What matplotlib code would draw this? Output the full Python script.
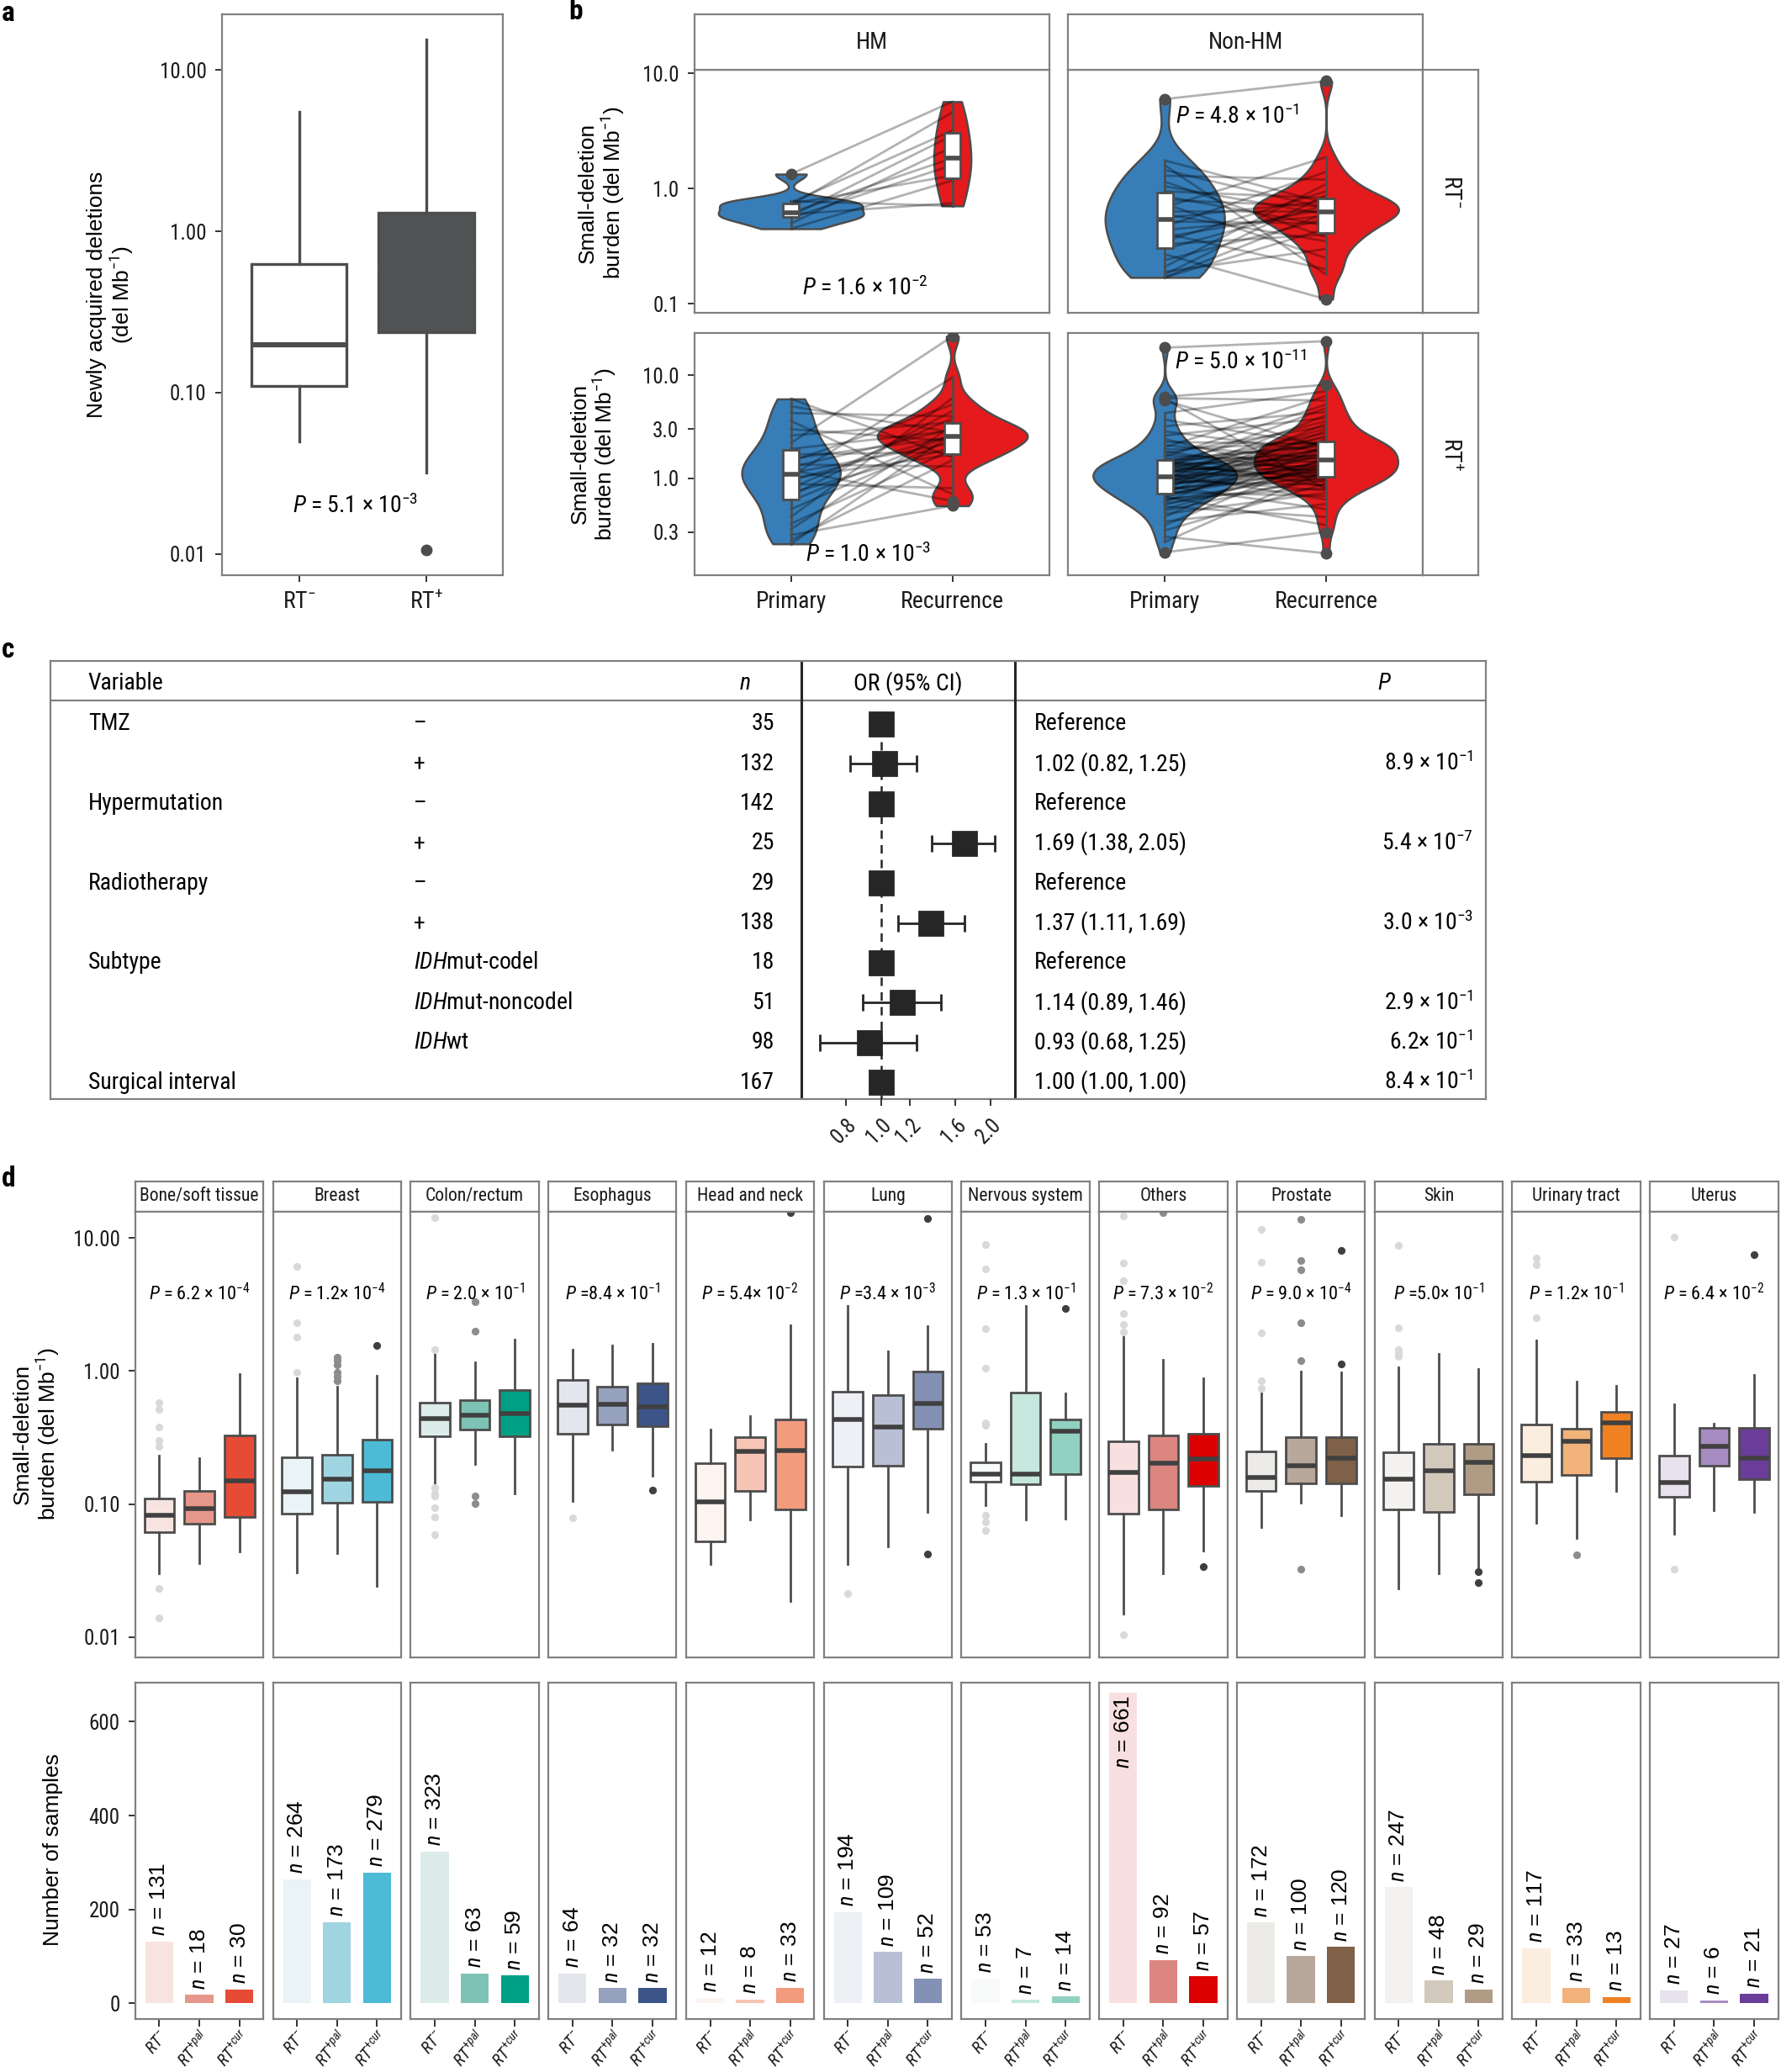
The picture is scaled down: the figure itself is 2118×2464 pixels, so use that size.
import numpy as np
import matplotlib
matplotlib.use('Agg')
import matplotlib.pyplot as plt
from matplotlib import cbook, font_manager as fm
from matplotlib.ticker import NullLocator

names = {f.name for f in fm.fontManager.ttflist}
_cands = ['Liberation Sans Narrow', 'Arial Narrow', 'Roboto Condensed', 'Archivo Narrow',
          'PT Sans Narrow', 'Barlow Semi Condensed', 'Asap Condensed']
NARROW = next((c for c in _cands if c in names), 'Liberation Sans')
REG = 'Liberation Sans'
plt.rcParams['font.family'] = [NARROW, 'DejaVu Sans']
plt.rcParams['mathtext.fontset'] = 'custom'
plt.rcParams['mathtext.rm'] = NARROW
plt.rcParams['mathtext.it'] = NARROW + ':italic'
plt.rcParams['mathtext.bf'] = NARROW + ':bold'
plt.rcParams['mathtext.sf'] = NARROW

# ======================= DATA =======================
# ---- panel a ----
a_groups = ['RT$^{-}$', 'RT$^{+}$']
a_q1 = [0.110, 0.236]
a_med = [0.198, 0.58]
a_q3 = [0.624, 1.31]
a_lo = [0.0497, 0.0319]
a_hi = [5.48, 15.4]
a_out = [[], [0.0105]]
a_p = r'$\mathit{P}$ = 5.1 × 10$^{-3}$'

# ---- panel b (paired primary / recurrence burdens) ----
b_cols = ['HM', 'Non-HM']
b_rows = ['RT$^{-}$', 'RT$^{+}$']
b_xlabels = ['Primary', 'Recurrence']
hm_neg_pri = [1.34, 0.78, 0.76, 0.74, 0.72, 0.62, 0.60, 0.58, 0.56, 0.50, 0.45]
hm_neg_rec = [5.7, 0.71, 3.2, 1.3, 4.6, 1.84, 0.75, 2.9, 1.6, 2.3, 1.18]
nhm_neg_pri = [0.17, 0.17, 0.18, 0.19, 0.21, 0.24, 0.27, 0.30, 0.33, 0.35,
               0.38, 0.41, 0.44, 0.47, 0.52, 0.56, 0.60, 0.64, 0.69, 0.74,
               0.80, 0.86, 0.95, 1.05, 1.15, 1.30, 1.45, 1.60, 1.76, 6.0]
nhm_neg_rec = [0.62, 0.45, 0.88, 0.30, 1.10, 0.55, 0.11, 0.72, 0.40, 0.95,
               0.66, 0.20, 0.58, 1.40, 0.50, 0.78, 0.35, 0.64, 1.88, 0.25,
               0.70, 0.48, 0.83, 0.60, 0.38, 1.20, 0.68, 0.18, 0.75, 8.6]
hm_pos_pri = [0.23, 0.25, 0.28, 0.32, 0.36, 0.42, 0.50, 0.60, 0.67, 0.72,
              0.80, 0.88, 0.95, 1.00, 1.05, 1.12, 1.20, 1.28, 1.36, 1.45,
              1.55, 1.70, 1.93, 2.20, 2.60, 3.00, 3.60, 4.30, 5.00, 5.90]
hm_pos_rec = [2.7, 1.5, 0.54, 3.2, 1.9, 6.0, 2.4, 2.65, 4.5, 2.0,
              3.8, 0.8, 2.6, 1.7, 9.5, 2.2, 0.6, 3.0, 1.3, 5.2,
              2.5, 1.8, 2.9, 24.0, 3.5, 2.3, 0.7, 4.0, 2.8, 1.6]
nhm_pos_pri = [0.19, 0.24, 0.27, 0.31, 0.35, 0.38, 0.42, 0.45, 0.48, 0.50,
               0.53, 0.55, 0.57, 0.59, 0.61, 0.63, 0.65, 0.66, 0.68, 0.70,
               0.71, 0.73, 0.75, 0.77, 0.79, 0.80, 0.82, 0.84, 0.86, 0.88,
               0.90, 0.91, 0.93, 0.95, 0.96, 0.98, 0.99, 1.00, 1.02, 1.03,
               1.05, 1.08, 1.10, 1.12, 1.14, 1.17, 1.19, 1.21, 1.24, 1.26,
               1.28, 1.30, 1.33, 1.35, 1.38, 1.40, 1.43, 1.45, 1.48, 1.50,
               1.55, 1.62, 1.68, 1.75, 1.82, 1.90, 2.00, 2.10, 2.25, 2.40,
               2.60, 2.85, 3.20, 3.70, 4.30, 5.70, 5.90, 6.00, 6.20, 18.6]
nhm_pos_rec = [0.30, 1.20, 0.186, 0.89, 1.60, 0.56, 2.10, 0.72, 1.05, 1.40,
               0.42, 1.30, 0.95, 2.40, 1.10, 0.80, 1.76, 0.35, 1.50, 1.23,
               2.90, 0.67, 1.45, 1.16, 3.40, 0.99, 1.84, 0.50, 1.33, 2.00,
               1.07, 2.60, 0.86, 1.64, 1.26, 4.10, 0.76, 1.92, 1.38, 2.20,
               1.14, 3.05, 0.62, 1.72, 2.29, 1.48, 0.92, 2.50, 1.21, 4.80,
               1.88, 1.03, 2.75, 1.57, 0.97, 3.60, 1.28, 2.12, 0.83, 1.68,
               2.04, 5.20, 1.43, 3.20, 1.12, 2.25, 6.30, 1.53, 2.16, 1.01,
               3.85, 1.80, 4.40, 2.08, 7.00, 1.96, 0.78, 5.70, 8.10, 21.5]
b_p = [[r'$\mathit{P}$ = 1.6 × 10$^{-2}$', r'$\mathit{P}$ = 4.8 × 10$^{-1}$'],
       [r'$\mathit{P}$ = 1.0 × 10$^{-3}$', r'$\mathit{P}$ = 5.0 × 10$^{-11}$']]

# ---- panel c (forest table) ----
c_variables = ['TMZ', '', 'Hypermutation', '', 'Radiotherapy', '', 'Subtype', '', '', 'Surgical interval']
c_levels = ['–', '+', '–', '+', '–', '+', r'$\mathit{IDH}$mut-codel', r'$\mathit{IDH}$mut-noncodel',
            r'$\mathit{IDH}$wt', '']
c_n = [35, 132, 142, 25, 29, 138, 18, 51, 98, 167]
c_or = [1.00, 1.02, 1.00, 1.69, 1.00, 1.37, 1.00, 1.14, 0.93, 1.00]
c_lo = [np.nan, 0.82, np.nan, 1.38, np.nan, 1.11, np.nan, 0.89, 0.68, 1.00]
c_hi = [np.nan, 1.25, np.nan, 2.05, np.nan, 1.69, np.nan, 1.46, 1.25, 1.00]
c_ortext = ['Reference', '1.02 (0.82, 1.25)', 'Reference', '1.69 (1.38, 2.05)', 'Reference',
            '1.37 (1.11, 1.69)', 'Reference', '1.14 (0.89, 1.46)', '0.93 (0.68, 1.25)', '1.00 (1.00, 1.00)']
c_p = ['', r'8.9 × 10$^{-1}$', '', r'5.4 × 10$^{-7}$', '', r'3.0 × 10$^{-3}$', '',
       r'2.9 × 10$^{-1}$', r'6.2× 10$^{-1}$', r'8.4 × 10$^{-1}$']
c_ticks = [0.8, 1.0, 1.2, 1.6, 2.0]

# ---- panel d ----
d_cancers = ['Bone/soft tissue', 'Breast', 'Colon/rectum', 'Esophagus', 'Head and neck', 'Lung',
             'Nervous system', 'Others', 'Prostate', 'Skin', 'Urinary tract', 'Uterus']
d_groups = [r'$\mathit{RT}^{-}$', r'$\mathit{RT}^{+pal}$', r'$\mathit{RT}^{+cur}$']
d_q1 = [[0.062, 0.0714, 0.080], [0.0843, 0.1025, 0.1035], [0.324, 0.365, 0.324], [0.339, 0.394, 0.385],
        [0.0526, 0.126, 0.0906], [0.191, 0.195, 0.369], [0.147, 0.141, 0.167], [0.0843, 0.0906, 0.137],
        [0.126, 0.143, 0.143], [0.0916, 0.0877, 0.119], [0.147, 0.166, 0.223], [0.113, 0.195, 0.153]]
d_med = [[0.082, 0.0927, 0.149], [0.124, 0.155, 0.177], [0.44, 0.466, 0.479], [0.556, 0.56, 0.536],
         [0.104, 0.247, 0.254], [0.435, 0.377, 0.567], [0.169, 0.167, 0.352], [0.174, 0.202, 0.217],
         [0.158, 0.195, 0.223], [0.153, 0.177, 0.206], [0.232, 0.295, 0.408], [0.145, 0.273, 0.223]]
d_q3 = [[0.110, 0.126, 0.33], [0.226, 0.236, 0.303], [0.582, 0.60, 0.72], [0.859, 0.76, 0.813],
        [0.202, 0.317, 0.43], [0.70, 0.66, 0.987], [0.206, 0.69, 0.435], [0.295, 0.33, 0.339],
        [0.249, 0.317, 0.317], [0.245, 0.284, 0.284], [0.394, 0.369, 0.496], [0.233, 0.372, 0.372]]
d_lo = [[0.030, 0.036, 0.044], [0.0305, 0.0426, 0.0244], [0.143, 0.20, 0.120], [0.105, 0.256, 0.164],
        [0.0352, 0.0767, 0.0188], [0.0356, 0.0483, 0.0867], [0.098, 0.0767, 0.0776], [0.015, 0.030, 0.045],
        [0.0675, 0.1025, 0.082], [0.0234, 0.030, 0.0333], [0.072, 0.0556, 0.126], [0.060, 0.090, 0.0877]]
d_hi = [[0.23, 0.223, 0.95], [0.888, 0.76, 0.92], [1.36, 1.17, 1.73], [1.44, 1.55, 1.60],
        [0.365, 0.46, 2.19], [3.09, 1.40, 2.16], [0.284, 3.06, 0.68], [1.85, 1.22, 0.888],
        [0.68, 0.99, 0.97], [1.07, 1.34, 1.03], [1.70, 0.826, 0.77], [0.56, 0.40, 0.94]]
d_out = [[[0.575, 0.515, 0.38, 0.30, 0.27, 0.0234, 0.014], [], []],
         [[6.1, 2.31, 1.79, 0.977], [1.27, 1.19, 1.11, 0.98, 0.91, 0.85], [1.55]],
         [[14.1, 1.44, 0.134, 0.121, 0.115, 0.094, 0.080, 0.059], [3.32, 1.98, 0.115, 0.101], []],
         [[0.0785], [], [0.128]],
         [[], [], [15.5]],
         [[0.0213], [], [14.0, 0.042]],
         [[8.9, 5.86, 2.09, 1.05, 0.41, 0.39, 0.082, 0.073, 0.063], [], [2.94]],
         [[14.5, 6.5, 4.77, 2.7, 2.25, 1.96, 0.0105], [15.5], [0.034]],
         [[11.6, 6.6, 1.94, 0.85, 0.74], [13.7, 6.73, 5.79, 2.31, 1.19, 0.0327], [8.1, 1.135]],
         [[8.8, 2.1, 1.44, 1.36, 1.29], [], [0.031, 0.0258]],
         [[7.04, 6.3, 2.52], [0.0416], []],
         [[10.1, 0.0327], [], [7.48]]]
d_p = [r'$\mathit{P}$ = 6.2 × 10$^{-4}$', r'$\mathit{P}$ = 1.2× 10$^{-4}$', r'$\mathit{P}$ = 2.0 × 10$^{-1}$',
       r'$\mathit{P}$ =8.4 × 10$^{-1}$', r'$\mathit{P}$ = 5.4× 10$^{-2}$', r'$\mathit{P}$ =3.4 × 10$^{-3}$',
       r'$\mathit{P}$ = 1.3 × 10$^{-1}$', r'$\mathit{P}$ = 7.3 × 10$^{-2}$', r'$\mathit{P}$ = 9.0 × 10$^{-4}$',
       r'$\mathit{P}$ =5.0× 10$^{-1}$', r'$\mathit{P}$ = 1.2× 10$^{-1}$', r'$\mathit{P}$ = 6.4 × 10$^{-2}$']
d_n = [[131, 18, 30], [264, 173, 279], [323, 63, 59], [64, 32, 32], [12, 8, 33], [194, 109, 52],
       [53, 7, 14], [661, 92, 57], [172, 100, 120], [247, 48, 29], [117, 33, 13], [27, 6, 21]]
d_colors = [['#f7e4e1', '#e6968a', '#e64b35'], ['#eaf4f6', '#a1d4e1', '#4dbbd5'],
            ['#ddecea', '#7dc2b5', '#00a087'], ['#e3e6ec', '#95a1bd', '#3c5488'],
            ['#fdf3f0', '#f6c5b5', '#f39b7f'], ['#eff0f5', '#b8c0d5', '#8491b4'],
            ['#f8fbfa', '#c5e7de', '#91d1c2'], ['#f8e0e0', '#dc8680', '#dc0000'],
            ['#ecebe8', '#b8a79b', '#7e6148'], ['#f3f2ef', '#d3c8bc', '#b09c85'],
            ['#fbeedf', '#f2b27a', '#f08123'], ['#e8e1ee', '#a68cc1', '#6a3d9a']]

# ======================= STYLE HELPERS =======================
GRAY = '#808080'
LINE_C = '#4d4d4d'
TICK_C = '#333333'
OUT_C = ['#d9d9d9', '#8c8c8c', '#3f3f3f']
BLUE, RED = '#377eb8', '#e41a1c'

fig = plt.figure(figsize=(2118 / 200, 2464 / 200), dpi=200)
W, H = 1349.0, 1568.0


def rect(x0, y0, x1, y1):
    return [x0 / W, 1 - y1 / H, (x1 - x0) / W, (y1 - y0) / H]


def style(ax, ls=8.5):
    for s in ax.spines.values():
        s.set_color(GRAY)
        s.set_linewidth(0.8)
    ax.tick_params(colors=TICK_C, labelcolor='#1a1a1a', length=3, width=0.7, labelsize=ls)
    ax.yaxis.set_minor_locator(NullLocator())
    ax.xaxis.set_minor_locator(NullLocator())


def strip(r, text, rot=0, fs=9):
    s = fig.add_axes(rect(*r))
    s.set_xticks([])
    s.set_yticks([])
    for sp in s.spines.values():
        sp.set_color(GRAY)
        sp.set_linewidth(0.8)
    s.text(0.5, 0.5, text, ha='center', va='center', rotation=rot, fontsize=fs,
           transform=s.transAxes, color='#1a1a1a')
    return s


def nrd0_kde(X, coords):
    X = np.asarray(X, float)
    n = len(X)
    sd = np.std(X, ddof=1)
    q75, q25 = np.percentile(X, [75, 25])
    h = 0.9 * min(sd, (q75 - q25) / 1.34) * n ** -0.2
    z = (np.asarray(coords)[:, None] - X[None, :]) / h
    return np.exp(-0.5 * z * z).sum(1) / (n * h * np.sqrt(2 * np.pi))


def log_violin(ax, vals, pos, width, color):
    vs = cbook.violin_stats([np.log10(vals)], nrd0_kde, points=300)
    for s in vs:
        for k in ['coords', 'mean', 'median', 'min', 'max']:
            s[k] = 10 ** np.asarray(s[k])
    parts = ax.violin(vs, positions=[pos], widths=width, showmeans=False,
                      showextrema=False, showmedians=False)
    for b in parts['bodies']:
        b.set_facecolor(color)
        b.set_edgecolor(LINE_C)
        b.set_alpha(1)
        b.set_linewidth(0.9)
        b.set_zorder(1)


def log_boxstats(vals):
    st = cbook.boxplot_stats(np.log10(vals), whis=1.5)[0]
    out = {k: 10 ** st[k] for k in ['med', 'q1', 'q3', 'whislo', 'whishi']}
    out['fliers'] = 10 ** np.asarray(st['fliers'])
    return out


# ======================= PANEL A =======================
axa = fig.add_axes(rect(168, 11.1, 380.6, 435.4))
style(axa, 9)
axa.set_yscale('log')
a_fill = ['white', '#505354']
a_medc = [LINE_C, '#505354']
for g in range(2):
    st = dict(q1=a_q1[g], med=a_med[g], q3=a_q3[g], whislo=a_lo[g], whishi=a_hi[g], fliers=a_out[g])
    axa.bxp([st], positions=[g + 1], widths=0.75, patch_artist=True, showcaps=False, manage_ticks=False,
            boxprops=dict(facecolor=a_fill[g], edgecolor=LINE_C, linewidth=1.2),
            medianprops=dict(color=a_medc[g], linewidth=2.2),
            whiskerprops=dict(color=LINE_C, linewidth=1.2),
            flierprops=dict(marker='o', markerfacecolor=LINE_C, markeredgecolor=LINE_C, markersize=4))
axa.set_xlim(0.394, 2.597)
axa.set_ylim(10 ** -2.134, 10 ** 1.344)
axa.set_yticks([0.01, 0.1, 1, 10])
axa.set_yticklabels(['0.01', '0.10', '1.00', '10.00'])
axa.yaxis.set_minor_locator(NullLocator())
axa.set_xticks([1, 2])
axa.set_xticklabels(a_groups, fontsize=10)
axa.text(1.44, 0.0198, a_p, ha='center', va='center', fontsize=10)
fig.text(84 / W, 1 - 223 / H, 'Newly acquired deletions\n(del Mb$^{-1}$)', rotation=90,
         ha='center', va='center', fontsize=9.5, family=REG, linespacing=1.05)

# ======================= PANEL B =======================
b_data = {(0, 0): (hm_neg_pri, hm_neg_rec), (0, 1): (nhm_neg_pri, nhm_neg_rec),
          (1, 0): (hm_pos_pri, hm_pos_rec), (1, 1): (nhm_pos_pri, nhm_pos_rec)}
b_vw = {(0, 0): (0.9, 0.23), (0, 1): (0.74, 0.9), (1, 0): (0.61, 0.93), (1, 1): (0.89, 0.89)}
b_ptxt_pos = {(0, 0): (1.46, 0.138), (0, 1): (1.45, 4.25), (1, 0): (1.48, 0.179), (1, 1): (1.47, 13.5)}
xr = {0: (525.8, 794.7), 1: (809, 1077.7)}
yr = {0: (53.1, 237), 1: (251.7, 435.4)}
ylims = {0: (10 ** -1.080, 10 ** 1.029), 1: (10 ** -0.945, 10 ** 1.416)}
yticks = {0: ([0.1, 1.0, 10.0], ['0.1', '1.0', '10.0']),
          1: ([0.3, 1.0, 3.0, 10.0], ['0.3', '1.0', '3.0', '10.0'])}
for r in range(2):
    for c in range(2):
        ax = fig.add_axes(rect(xr[c][0], yr[r][0], xr[c][1], yr[r][1]))
        style(ax, 9)
        ax.set_yscale('log')
        pri, rec = b_data[(r, c)]
        wp, wr = b_vw[(r, c)]
        log_violin(ax, pri, 1, wp, BLUE)
        log_violin(ax, rec, 2, wr, RED)
        for p, q in zip(pri, rec):
            ax.plot([1, 2], [p, q], color='black', alpha=0.3, lw=1.0, zorder=2)
        for pos, vals in [(1, pri), (2, rec)]:
            ax.bxp([log_boxstats(vals)], positions=[pos], widths=0.1, patch_artist=True, showcaps=False,
                   manage_ticks=False, zorder=3,
                   boxprops=dict(facecolor='white', edgecolor=LINE_C, linewidth=1.0),
                   medianprops=dict(color=LINE_C, linewidth=2.0),
                   whiskerprops=dict(color=LINE_C, linewidth=1.0),
                   flierprops=dict(marker='o', markerfacecolor=LINE_C, markeredgecolor=LINE_C,
                                   markersize=4))
        ax.set_xlim(0.4, 2.6)
        ax.set_ylim(*ylims[r])
        ax.set_yticks(yticks[r][0])
        ax.yaxis.set_minor_locator(NullLocator())
        if c == 0:
            ax.set_yticklabels(yticks[r][1])
        else:
            ax.set_yticklabels([])
            ax.tick_params(axis='y', length=0)
        if r == 1:
            ax.set_xticks([1, 2])
            ax.set_xticklabels(b_xlabels, fontsize=10)
        else:
            ax.set_xticks([])
        px, py = b_ptxt_pos[(r, c)]
        ax.text(px, py, b_p[r][c], ha='center', va='center', fontsize=10, zorder=5)
for c in range(2):
    strip((xr[c][0], 11.1, xr[c][1], 53.1), b_cols[c], fs=10)
for r in range(2):
    strip((1077.7, yr[r][0], 1120, yr[r][1]), b_rows[r], rot=270, fs=10)
fig.text(456 / W, 1 - 146 / H, 'Small-deletion\nburden (del Mb$^{-1}$)', rotation=90,
         ha='center', va='center', fontsize=9.5, family=REG, linespacing=1.05)
fig.text(450 / W, 1 - 343.5 / H, 'Small-deletion\nburden (del Mb$^{-1}$)', rotation=90,
         ha='center', va='center', fontsize=9.5, family=REG, linespacing=1.05)

# ======================= PANEL C =======================
rows = np.arange(len(c_n))
YL = (9.43, -1.586)
axc = fig.add_axes(rect(37.9, 500, 1125.4, 832))
axc.set_xlim(37.9, 1125.4)
axc.set_ylim(*YL)
axc.set_xticks([])
axc.set_yticks([])
for s in axc.spines.values():
    s.set_color(GRAY)
    s.set_linewidth(0.8)
axc.axhline(-0.59, color=GRAY, lw=0.8)
axc.axvline(607, color='#262626', lw=1.1)
axc.axvline(769, color='#262626', lw=1.1)
FS_C = 10
HEAD_Y = -1.02
axc.text(66.7, HEAD_Y, 'Variable', ha='left', va='center', fontsize=FS_C)
axc.text(564, HEAD_Y, r'$\mathit{n}$', ha='center', va='center', fontsize=FS_C)
axc.text(688, HEAD_Y, 'OR (95% CI)', ha='center', va='center', fontsize=FS_C)
axc.text(1048.5, HEAD_Y, r'$\mathit{P}$', ha='center', va='center', fontsize=FS_C)
for i in rows:
    axc.text(66.7, i, c_variables[i], ha='left', va='center', fontsize=FS_C)
    axc.text(313.5, i, c_levels[i], ha='left', va='center', fontsize=FS_C)
    axc.text(586.5, i, str(c_n[i]), ha='right', va='center', fontsize=FS_C)
    axc.text(783.6, i, c_ortext[i], ha='left', va='center', fontsize=FS_C)
    if c_p[i]:
        axc.text(1116, i, c_p[i], ha='right', va='center', fontsize=FS_C)

axf = fig.add_axes(rect(607, 500, 769, 832))
axf.patch.set_alpha(0)
axf.set_xscale('log')
for s in axf.spines.values():
    s.set_visible(False)
axf.vlines(1.0, -0.3, YL[0], colors='#262626', linestyles=(0, (4, 3)), lw=0.9, zorder=1)
orr = np.array(c_or)
lo = np.array(c_lo)
hi = np.array(c_hi)
m = ~np.isnan(lo) & (hi > lo)
axf.errorbar(orr[m], rows[m], xerr=[orr[m] - lo[m], hi[m] - orr[m]], fmt='none', ecolor='#262626',
             elinewidth=1.0, capsize=3.5, capthick=1.0, zorder=2)
axf.plot(orr, rows, 's', ms=10, color='#262626', zorder=3)
axf.set_xlim(0.604, 2.334)
axf.set_ylim(*YL)
axf.set_yticks([])
axf.set_xticks(c_ticks)
axf.set_xticklabels([f'{t:.1f}' for t in c_ticks], rotation=45, ha='right', rotation_mode='anchor')
axf.xaxis.set_minor_locator(NullLocator())
axf.tick_params(axis='x', colors=TICK_C, labelcolor='#1a1a1a', length=3, width=0.7, labelsize=9)

# ======================= PANEL D =======================
for i in range(len(d_cancers)):
    x0 = 102.5 + i * 104.3
    x1 = x0 + 97
    strip((x0, 894, x1, 917), d_cancers[i], fs=7.8)
    axt = fig.add_axes(rect(x0, 917, x1, 1254))
    style(axt, 9)
    axt.set_yscale('log')
    for g in range(3):
        st = dict(q1=d_q1[i][g], med=d_med[i][g], q3=d_q3[i][g], whislo=d_lo[i][g],
                  whishi=d_hi[i][g], fliers=d_out[i][g])
        axt.bxp([st], positions=[g + 1], widths=0.75, patch_artist=True, showcaps=False,
                manage_ticks=False,
                boxprops=dict(facecolor=d_colors[i][g], edgecolor=LINE_C, linewidth=1.0),
                medianprops=dict(color='#404040', linewidth=2.0),
                whiskerprops=dict(color=LINE_C, linewidth=1.0),
                flierprops=dict(marker='o', markerfacecolor=OUT_C[g], markeredgecolor='none',
                                markersize=3.3))
    axt.set_xlim(0.4, 3.6)
    axt.set_ylim(10 ** -2.149, 10 ** 1.196)
    axt.set_xticks([])
    axt.set_yticks([0.01, 0.1, 1, 10])
    axt.yaxis.set_minor_locator(NullLocator())
    if i == 0:
        axt.set_yticklabels(['0.01', '0.10', '1.00', '10.00'])
    else:
        axt.set_yticklabels([])
        axt.tick_params(axis='y', length=0)
    axt.text(2.0, 3.8, d_p[i], ha='center', va='center', fontsize=8)

    axb = fig.add_axes(rect(x0, 1273.4, x1, 1527.7))
    style(axb, 9)
    axb.bar([1, 2, 3], d_n[i], width=0.7, color=d_colors[i])
    axb.set_xlim(0.4, 3.6)
    axb.set_ylim(-33, 683)
    axb.set_yticks([0, 200, 400, 600])
    if i == 0:
        axb.set_yticklabels(['0', '200', '400', '600'])
    else:
        axb.set_yticklabels([])
        axb.tick_params(axis='y', length=0)
    axb.set_xticks([1, 2, 3])
    axb.set_xticklabels(d_groups, rotation=50, ha='right', rotation_mode='anchor', fontsize=7.2)
    axb.tick_params(axis='x', pad=0.5, length=3.2)
    for g in range(3):
        nval = d_n[i][g]
        lab = r'$\mathit{n}$ = ' + str(nval)
        if nval + 200 > 683:
            axb.text(g + 1, nval - 5, lab, rotation=90, ha='center', va='top', fontsize=9.5, family=REG)
        else:
            axb.text(g + 1, nval + 12, lab, rotation=90, ha='center', va='bottom', fontsize=9.5,
                     family=REG)

fig.text(28 / W, 1 - 1085 / H, 'Small-deletion\nburden (del Mb$^{-1}$)', rotation=90,
         ha='center', va='center', fontsize=9.5, family=REG, linespacing=1.05)
fig.text(40 / W, 1 - 1400 / H, 'Number of samples', rotation=90,
         ha='center', va='center', fontsize=9.5, family=REG)

# panel letters
for lab, (x, y) in {'a': (1, 10), 'b': (431, 9), 'c': (1, 492), 'd': (1, 892)}.items():
    fig.text(x / W, 1 - y / H, lab, ha='left', va='center', fontsize=12, fontweight='bold')

fig.savefig('out.png', dpi=200)
